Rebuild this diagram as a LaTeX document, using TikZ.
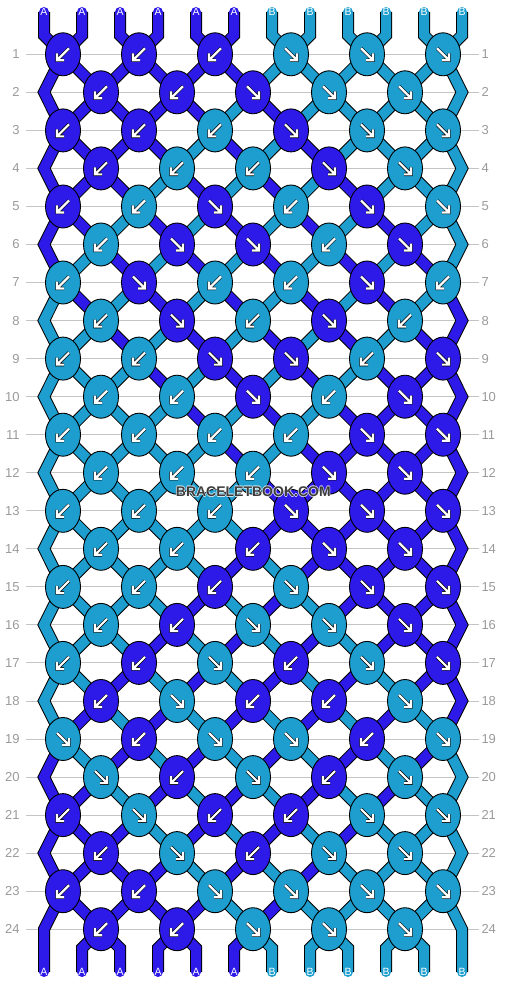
\documentclass[tikz,border=0pt]{standalone}
\usepackage{fontspec}
\setmainfont{Liberation Sans}
\usetikzlibrary{shapes.geometric}
\definecolor{colA}{HTML}{2D1AE9}
\definecolor{colB}{HTML}{1D9ECE}
\definecolor{rowgray}{HTML}{C4C4C4}
\definecolor{numgray}{HTML}{9A9A9A}
\definecolor{wmgray}{HTML}{3C3C3C}
\pgfdeclarelayer{grid}
\pgfdeclarelayer{strings}
\pgfsetlayers{grid,strings,main}

\tikzset{
  knot/.style={ellipse, draw=black, line width=0.9pt, minimum width=35pt, minimum height=43pt, inner sep=0pt},
  arrowline/.style={white, line width=2.2pt, preaction={draw=black, line width=3.4pt}},
  asw/.style={knot, fill=colA, path picture={\draw[arrowline] (path picture bounding box.center) ++(6,-6) -- ++(-12,12) ++(0,-7) -- ++(0,7) -- ++(7,0);}},
  ase/.style={knot, fill=colA, path picture={\draw[arrowline] (path picture bounding box.center) ++(-6,-6) -- ++(12,12) ++(-7,0) -- ++(7,0) -- ++(0,-7);}},
  bsw/.style={knot, fill=colB, path picture={\draw[arrowline] (path picture bounding box.center) ++(6,-6) -- ++(-12,12) ++(0,-7) -- ++(0,7) -- ++(7,0);}},
  bse/.style={knot, fill=colB, path picture={\draw[arrowline] (path picture bounding box.center) ++(-6,-6) -- ++(12,12) ++(-7,0) -- ++(7,0) -- ++(0,-7);}},
  strA/.style={draw=colA, line width=10pt, line cap=round, preaction={draw=black, line width=12pt}},
  strB/.style={draw=colB, line width=10pt, line cap=round, preaction={draw=black, line width=12pt}},
  endlabel/.style={text=white, font=\fontsize{10.5}{12}\selectfont, inner sep=0pt},
  rowline/.style={draw=rowgray, line width=1pt},
  rownum/.style={text=numgray, font=\fontsize{13}{15}\selectfont, inner sep=0pt},
  wmark/.style={font=\fontsize{14}{16}\selectfont\bfseries, inner sep=0pt}
}

\begin{document}
\begin{tikzpicture}[x=1pt,y=-1pt]
\useasboundingbox (0,0) rectangle (506,984);

\node[asw] (k1-1) at (63,54.3) {};
\node[asw] (k1-2) at (139,54.3) {};
\node[asw] (k1-3) at (215,54.3) {};
\node[bse] (k1-4) at (291,54.3) {};
\node[bse] (k1-5) at (367,54.3) {};
\node[bse] (k1-6) at (443,54.3) {};
\node[asw] (k2-1) at (101,92.3) {};
\node[asw] (k2-2) at (177,92.3) {};
\node[ase] (k2-3) at (253,92.3) {};
\node[bse] (k2-4) at (329,92.3) {};
\node[bse] (k2-5) at (405,92.3) {};
\node[asw] (k3-1) at (63,130.4) {};
\node[asw] (k3-2) at (139,130.4) {};
\node[bsw] (k3-3) at (215,130.4) {};
\node[ase] (k3-4) at (291,130.4) {};
\node[bse] (k3-5) at (367,130.4) {};
\node[bse] (k3-6) at (443,130.4) {};
\node[asw] (k4-1) at (101,168.4) {};
\node[bsw] (k4-2) at (177,168.4) {};
\node[bsw] (k4-3) at (253,168.4) {};
\node[ase] (k4-4) at (329,168.4) {};
\node[bse] (k4-5) at (405,168.4) {};
\node[asw] (k5-1) at (63,206.5) {};
\node[bsw] (k5-2) at (139,206.5) {};
\node[ase] (k5-3) at (215,206.5) {};
\node[bsw] (k5-4) at (291,206.5) {};
\node[ase] (k5-5) at (367,206.5) {};
\node[bse] (k5-6) at (443,206.5) {};
\node[bsw] (k6-1) at (101,244.5) {};
\node[ase] (k6-2) at (177,244.5) {};
\node[ase] (k6-3) at (253,244.5) {};
\node[bsw] (k6-4) at (329,244.5) {};
\node[ase] (k6-5) at (405,244.5) {};
\node[bsw] (k7-1) at (63,282.5) {};
\node[ase] (k7-2) at (139,282.5) {};
\node[bsw] (k7-3) at (215,282.5) {};
\node[bsw] (k7-4) at (291,282.5) {};
\node[ase] (k7-5) at (367,282.5) {};
\node[bsw] (k7-6) at (443,282.5) {};
\node[bsw] (k8-1) at (101,320.6) {};
\node[ase] (k8-2) at (177,320.6) {};
\node[bsw] (k8-3) at (253,320.6) {};
\node[ase] (k8-4) at (329,320.6) {};
\node[bsw] (k8-5) at (405,320.6) {};
\node[bsw] (k9-1) at (63,358.6) {};
\node[bsw] (k9-2) at (139,358.6) {};
\node[ase] (k9-3) at (215,358.6) {};
\node[ase] (k9-4) at (291,358.6) {};
\node[bsw] (k9-5) at (367,358.6) {};
\node[ase] (k9-6) at (443,358.6) {};
\node[bsw] (k10-1) at (101,396.7) {};
\node[bsw] (k10-2) at (177,396.7) {};
\node[ase] (k10-3) at (253,396.7) {};
\node[bsw] (k10-4) at (329,396.7) {};
\node[ase] (k10-5) at (405,396.7) {};
\node[bsw] (k11-1) at (63,434.7) {};
\node[bsw] (k11-2) at (139,434.7) {};
\node[bsw] (k11-3) at (215,434.7) {};
\node[bsw] (k11-4) at (291,434.7) {};
\node[ase] (k11-5) at (367,434.7) {};
\node[ase] (k11-6) at (443,434.7) {};
\node[bsw] (k12-1) at (101,472.7) {};
\node[bsw] (k12-2) at (177,472.7) {};
\node[bsw] (k12-3) at (253,472.7) {};
\node[ase] (k12-4) at (329,472.7) {};
\node[ase] (k12-5) at (405,472.7) {};
\node[bsw] (k13-1) at (63,510.8) {};
\node[bsw] (k13-2) at (139,510.8) {};
\node[bsw] (k13-3) at (215,510.8) {};
\node[ase] (k13-4) at (291,510.8) {};
\node[ase] (k13-5) at (367,510.8) {};
\node[ase] (k13-6) at (443,510.8) {};
\node[bsw] (k14-1) at (101,548.8) {};
\node[bsw] (k14-2) at (177,548.8) {};
\node[asw] (k14-3) at (253,548.8) {};
\node[ase] (k14-4) at (329,548.8) {};
\node[ase] (k14-5) at (405,548.8) {};
\node[bsw] (k15-1) at (63,586.9) {};
\node[bsw] (k15-2) at (139,586.9) {};
\node[asw] (k15-3) at (215,586.9) {};
\node[bse] (k15-4) at (291,586.9) {};
\node[ase] (k15-5) at (367,586.9) {};
\node[ase] (k15-6) at (443,586.9) {};
\node[bsw] (k16-1) at (101,624.9) {};
\node[asw] (k16-2) at (177,624.9) {};
\node[bse] (k16-3) at (253,624.9) {};
\node[bse] (k16-4) at (329,624.9) {};
\node[ase] (k16-5) at (405,624.9) {};
\node[bsw] (k17-1) at (63,662.9) {};
\node[asw] (k17-2) at (139,662.9) {};
\node[bse] (k17-3) at (215,662.9) {};
\node[asw] (k17-4) at (291,662.9) {};
\node[bse] (k17-5) at (367,662.9) {};
\node[ase] (k17-6) at (443,662.9) {};
\node[asw] (k18-1) at (101,701.0) {};
\node[bse] (k18-2) at (177,701.0) {};
\node[asw] (k18-3) at (253,701.0) {};
\node[asw] (k18-4) at (329,701.0) {};
\node[bse] (k18-5) at (405,701.0) {};
\node[bse] (k19-1) at (63,739.0) {};
\node[asw] (k19-2) at (139,739.0) {};
\node[bse] (k19-3) at (215,739.0) {};
\node[bse] (k19-4) at (291,739.0) {};
\node[asw] (k19-5) at (367,739.0) {};
\node[bse] (k19-6) at (443,739.0) {};
\node[bse] (k20-1) at (101,777.1) {};
\node[asw] (k20-2) at (177,777.1) {};
\node[bse] (k20-3) at (253,777.1) {};
\node[asw] (k20-4) at (329,777.1) {};
\node[bse] (k20-5) at (405,777.1) {};
\node[asw] (k21-1) at (63,815.1) {};
\node[bse] (k21-2) at (139,815.1) {};
\node[asw] (k21-3) at (215,815.1) {};
\node[asw] (k21-4) at (291,815.1) {};
\node[bse] (k21-5) at (367,815.1) {};
\node[bse] (k21-6) at (443,815.1) {};
\node[asw] (k22-1) at (101,853.1) {};
\node[bse] (k22-2) at (177,853.1) {};
\node[asw] (k22-3) at (253,853.1) {};
\node[bse] (k22-4) at (329,853.1) {};
\node[bse] (k22-5) at (405,853.1) {};
\node[asw] (k23-1) at (63,891.2) {};
\node[asw] (k23-2) at (139,891.2) {};
\node[bse] (k23-3) at (215,891.2) {};
\node[bse] (k23-4) at (291,891.2) {};
\node[bse] (k23-5) at (367,891.2) {};
\node[bse] (k23-6) at (443,891.2) {};
\node[asw] (k24-1) at (101,929.2) {};
\node[asw] (k24-2) at (177,929.2) {};
\node[bse] (k24-3) at (253,929.2) {};
\node[bse] (k24-4) at (329,929.2) {};
\node[bse] (k24-5) at (405,929.2) {};

\coordinate (eL2) at (44,92.3);
\coordinate (eR2) at (462,92.3);
\coordinate (eL4) at (44,168.4);
\coordinate (eR4) at (462,168.4);
\coordinate (eL6) at (44,244.5);
\coordinate (eR6) at (462,244.5);
\coordinate (eL8) at (44,320.6);
\coordinate (eR8) at (462,320.6);
\coordinate (eL10) at (44,396.7);
\coordinate (eR10) at (462,396.7);
\coordinate (eL12) at (44,472.7);
\coordinate (eR12) at (462,472.7);
\coordinate (eL14) at (44,548.8);
\coordinate (eR14) at (462,548.8);
\coordinate (eL16) at (44,624.9);
\coordinate (eR16) at (462,624.9);
\coordinate (eL18) at (44,701.0);
\coordinate (eR18) at (462,701.0);
\coordinate (eL20) at (44,777.1);
\coordinate (eR20) at (462,777.1);
\coordinate (eL22) at (44,853.1);
\coordinate (eR22) at (462,853.1);
\coordinate (eL24) at (44,929.2);
\coordinate (eR24) at (462,929.2);

\node[endlabel] (t1) at (44,12) {A};
\node[endlabel] (t2) at (82,12) {A};
\node[endlabel] (t3) at (120,12) {A};
\node[endlabel] (t4) at (158,12) {A};
\node[endlabel] (t5) at (196,12) {A};
\node[endlabel] (t6) at (234,12) {A};
\node[endlabel] (t7) at (272,12) {B};
\node[endlabel] (t8) at (310,12) {B};
\node[endlabel] (t9) at (348,12) {B};
\node[endlabel] (t10) at (386,12) {B};
\node[endlabel] (t11) at (424,12) {B};
\node[endlabel] (t12) at (462,12) {B};
\node[endlabel] (b1) at (44,972) {A};
\node[endlabel] (b2) at (82,972) {A};
\node[endlabel] (b3) at (120,972) {A};
\node[endlabel] (b4) at (158,972) {A};
\node[endlabel] (b5) at (196,972) {A};
\node[endlabel] (b6) at (234,972) {A};
\node[endlabel] (b7) at (272,972) {B};
\node[endlabel] (b8) at (310,972) {B};
\node[endlabel] (b9) at (348,972) {B};
\node[endlabel] (b10) at (386,972) {B};
\node[endlabel] (b11) at (424,972) {B};
\node[endlabel] (b12) at (462,972) {B};

\begin{pgfonlayer}{strings}
\draw[strA] (t1.center) -- ++(0,23.3) -- (k1-1.center) -- (k2-1.center) -- (k3-2.center) -- (k4-2.center) -- (k5-3.center) -- (k6-3.center) -- (k7-4.center) -- (k8-4.center) -- (k9-5.center) -- (k10-5.center) -- (k11-6.center) -- (eR12) -- (k13-6.center) -- (k14-5.center) -- (k15-5.center) -- (k16-4.center) -- (k17-4.center) -- (k18-3.center) -- (k19-3.center) -- (k20-2.center) -- (k21-2.center) -- (k22-1.center) -- (k23-1.center) -- (eL24) -- (b1.center);
\draw[strA] (t2.center) -- ++(0,23.3) -- (k1-1.center) -- (eL2) -- (k3-1.center) -- (k4-1.center) -- (k5-2.center) -- (k6-2.center) -- (k7-3.center) -- (k8-3.center) -- (k9-4.center) -- (k10-4.center) -- (k11-5.center) -- (k12-5.center) -- (k13-6.center) -- (eR14) -- (k15-6.center) -- (k16-5.center) -- (k17-5.center) -- (k18-4.center) -- (k19-4.center) -- (k20-3.center) -- (k21-3.center) -- (k22-2.center) -- (k23-2.center) -- (k24-1.center) -- ++(-19,19) -- (b2.center);
\draw[strA] (t3.center) -- ++(0,23.3) -- (k1-2.center) -- (k2-2.center) -- (k3-3.center) -- (k4-3.center) -- (k5-4.center) -- (k6-4.center) -- (k7-5.center) -- (k8-5.center) -- (k9-6.center) -- (eR10) -- (k11-6.center) -- (k12-5.center) -- (k13-5.center) -- (k14-4.center) -- (k15-4.center) -- (k16-3.center) -- (k17-3.center) -- (k18-2.center) -- (k19-2.center) -- (k20-1.center) -- (k21-1.center) -- (eL22) -- (k23-1.center) -- (k24-1.center) -- ++(19,19) -- (b3.center);
\draw[strA] (t4.center) -- ++(0,23.3) -- (k1-2.center) -- (k2-1.center) -- (k3-1.center) -- (eL4) -- (k5-1.center) -- (k6-1.center) -- (k7-2.center) -- (k8-2.center) -- (k9-3.center) -- (k10-3.center) -- (k11-4.center) -- (k12-4.center) -- (k13-5.center) -- (k14-5.center) -- (k15-6.center) -- (eR16) -- (k17-6.center) -- (k18-5.center) -- (k19-5.center) -- (k20-4.center) -- (k21-4.center) -- (k22-3.center) -- (k23-3.center) -- (k24-2.center) -- ++(-19,19) -- (b4.center);
\draw[strA] (t5.center) -- ++(0,23.3) -- (k1-3.center) -- (k2-3.center) -- (k3-4.center) -- (k4-4.center) -- (k5-5.center) -- (k6-5.center) -- (k7-6.center) -- (eR8) -- (k9-6.center) -- (k10-5.center) -- (k11-5.center) -- (k12-4.center) -- (k13-4.center) -- (k14-3.center) -- (k15-3.center) -- (k16-2.center) -- (k17-2.center) -- (k18-1.center) -- (k19-1.center) -- (eL20) -- (k21-1.center) -- (k22-1.center) -- (k23-2.center) -- (k24-2.center) -- ++(19,19) -- (b5.center);
\draw[strA] (t6.center) -- ++(0,23.3) -- (k1-3.center) -- (k2-2.center) -- (k3-2.center) -- (k4-1.center) -- (k5-1.center) -- (eL6) -- (k7-1.center) -- (k8-1.center) -- (k9-2.center) -- (k10-2.center) -- (k11-3.center) -- (k12-3.center) -- (k13-4.center) -- (k14-4.center) -- (k15-5.center) -- (k16-5.center) -- (k17-6.center) -- (eR18) -- (k19-6.center) -- (k20-5.center) -- (k21-5.center) -- (k22-4.center) -- (k23-4.center) -- (k24-3.center) -- ++(-19,19) -- (b6.center);
\draw[strB] (t7.center) -- ++(0,23.3) -- (k1-4.center) -- (k2-4.center) -- (k3-5.center) -- (k4-5.center) -- (k5-6.center) -- (eR6) -- (k7-6.center) -- (k8-5.center) -- (k9-5.center) -- (k10-4.center) -- (k11-4.center) -- (k12-3.center) -- (k13-3.center) -- (k14-2.center) -- (k15-2.center) -- (k16-1.center) -- (k17-1.center) -- (eL18) -- (k19-1.center) -- (k20-1.center) -- (k21-2.center) -- (k22-2.center) -- (k23-3.center) -- (k24-3.center) -- ++(19,19) -- (b7.center);
\draw[strB] (t8.center) -- ++(0,23.3) -- (k1-4.center) -- (k2-3.center) -- (k3-3.center) -- (k4-2.center) -- (k5-2.center) -- (k6-1.center) -- (k7-1.center) -- (eL8) -- (k9-1.center) -- (k10-1.center) -- (k11-2.center) -- (k12-2.center) -- (k13-3.center) -- (k14-3.center) -- (k15-4.center) -- (k16-4.center) -- (k17-5.center) -- (k18-5.center) -- (k19-6.center) -- (eR20) -- (k21-6.center) -- (k22-5.center) -- (k23-5.center) -- (k24-4.center) -- ++(-19,19) -- (b8.center);
\draw[strB] (t9.center) -- ++(0,23.3) -- (k1-5.center) -- (k2-5.center) -- (k3-6.center) -- (eR4) -- (k5-6.center) -- (k6-5.center) -- (k7-5.center) -- (k8-4.center) -- (k9-4.center) -- (k10-3.center) -- (k11-3.center) -- (k12-2.center) -- (k13-2.center) -- (k14-1.center) -- (k15-1.center) -- (eL16) -- (k17-1.center) -- (k18-1.center) -- (k19-2.center) -- (k20-2.center) -- (k21-3.center) -- (k22-3.center) -- (k23-4.center) -- (k24-4.center) -- ++(19,19) -- (b9.center);
\draw[strB] (t10.center) -- ++(0,23.3) -- (k1-5.center) -- (k2-4.center) -- (k3-4.center) -- (k4-3.center) -- (k5-3.center) -- (k6-2.center) -- (k7-2.center) -- (k8-1.center) -- (k9-1.center) -- (eL10) -- (k11-1.center) -- (k12-1.center) -- (k13-2.center) -- (k14-2.center) -- (k15-3.center) -- (k16-3.center) -- (k17-4.center) -- (k18-4.center) -- (k19-5.center) -- (k20-5.center) -- (k21-6.center) -- (eR22) -- (k23-6.center) -- (k24-5.center) -- ++(-19,19) -- (b10.center);
\draw[strB] (t11.center) -- ++(0,23.3) -- (k1-6.center) -- (eR2) -- (k3-6.center) -- (k4-5.center) -- (k5-5.center) -- (k6-4.center) -- (k7-4.center) -- (k8-3.center) -- (k9-3.center) -- (k10-2.center) -- (k11-2.center) -- (k12-1.center) -- (k13-1.center) -- (eL14) -- (k15-1.center) -- (k16-1.center) -- (k17-2.center) -- (k18-2.center) -- (k19-3.center) -- (k20-3.center) -- (k21-4.center) -- (k22-4.center) -- (k23-5.center) -- (k24-5.center) -- ++(19,19) -- (b11.center);
\draw[strB] (t12.center) -- ++(0,23.3) -- (k1-6.center) -- (k2-5.center) -- (k3-5.center) -- (k4-4.center) -- (k5-4.center) -- (k6-3.center) -- (k7-3.center) -- (k8-2.center) -- (k9-2.center) -- (k10-1.center) -- (k11-1.center) -- (eL12) -- (k13-1.center) -- (k14-1.center) -- (k15-2.center) -- (k16-2.center) -- (k17-3.center) -- (k18-3.center) -- (k19-4.center) -- (k20-4.center) -- (k21-5.center) -- (k22-5.center) -- (k23-6.center) -- (eR24) -- (b12.center);
\end{pgfonlayer}

\begin{pgfonlayer}{grid}
\draw[rowline] (26,54.3) node[rownum,left=6pt] (n1) {1} -- (479,54.3) node[rownum,right=2pt] (m1) {1};
\draw[rowline] (26,92.3) node[rownum,left=6pt] (n2) {2} -- (479,92.3) node[rownum,right=2pt] (m2) {2};
\draw[rowline] (26,130.4) node[rownum,left=6pt] (n3) {3} -- (479,130.4) node[rownum,right=2pt] (m3) {3};
\draw[rowline] (26,168.4) node[rownum,left=6pt] (n4) {4} -- (479,168.4) node[rownum,right=2pt] (m4) {4};
\draw[rowline] (26,206.5) node[rownum,left=6pt] (n5) {5} -- (479,206.5) node[rownum,right=2pt] (m5) {5};
\draw[rowline] (26,244.5) node[rownum,left=6pt] (n6) {6} -- (479,244.5) node[rownum,right=2pt] (m6) {6};
\draw[rowline] (26,282.5) node[rownum,left=6pt] (n7) {7} -- (479,282.5) node[rownum,right=2pt] (m7) {7};
\draw[rowline] (26,320.6) node[rownum,left=6pt] (n8) {8} -- (479,320.6) node[rownum,right=2pt] (m8) {8};
\draw[rowline] (26,358.6) node[rownum,left=6pt] (n9) {9} -- (479,358.6) node[rownum,right=2pt] (m9) {9};
\draw[rowline] (26,396.7) node[rownum,left=6pt] (n10) {10} -- (479,396.7) node[rownum,right=2pt] (m10) {10};
\draw[rowline] (26,434.7) node[rownum,left=6pt] (n11) {11} -- (479,434.7) node[rownum,right=2pt] (m11) {11};
\draw[rowline] (26,472.7) node[rownum,left=6pt] (n12) {12} -- (479,472.7) node[rownum,right=2pt] (m12) {12};
\draw[rowline] (26,510.8) node[rownum,left=6pt] (n13) {13} -- (479,510.8) node[rownum,right=2pt] (m13) {13};
\draw[rowline] (26,548.8) node[rownum,left=6pt] (n14) {14} -- (479,548.8) node[rownum,right=2pt] (m14) {14};
\draw[rowline] (26,586.9) node[rownum,left=6pt] (n15) {15} -- (479,586.9) node[rownum,right=2pt] (m15) {15};
\draw[rowline] (26,624.9) node[rownum,left=6pt] (n16) {16} -- (479,624.9) node[rownum,right=2pt] (m16) {16};
\draw[rowline] (26,662.9) node[rownum,left=6pt] (n17) {17} -- (479,662.9) node[rownum,right=2pt] (m17) {17};
\draw[rowline] (26,701.0) node[rownum,left=6pt] (n18) {18} -- (479,701.0) node[rownum,right=2pt] (m18) {18};
\draw[rowline] (26,739.0) node[rownum,left=6pt] (n19) {19} -- (479,739.0) node[rownum,right=2pt] (m19) {19};
\draw[rowline] (26,777.1) node[rownum,left=6pt] (n20) {20} -- (479,777.1) node[rownum,right=2pt] (m20) {20};
\draw[rowline] (26,815.1) node[rownum,left=6pt] (n21) {21} -- (479,815.1) node[rownum,right=2pt] (m21) {21};
\draw[rowline] (26,853.1) node[rownum,left=6pt] (n22) {22} -- (479,853.1) node[rownum,right=2pt] (m22) {22};
\draw[rowline] (26,891.2) node[rownum,left=6pt] (n23) {23} -- (479,891.2) node[rownum,right=2pt] (m23) {23};
\draw[rowline] (26,929.2) node[rownum,left=6pt] (n24) {24} -- (479,929.2) node[rownum,right=2pt] (m24) {24};
\end{pgfonlayer}

\node[wmark, text=white, opacity=0.75] (halo1) at (254,491.7) {BRACELETBOOK.COM};
\node[wmark, text=white, opacity=0.75] (halo2) at (252.6,491.7) {BRACELETBOOK.COM};
\node[wmark, text=white, opacity=0.75] (halo3) at (253.3,492.4) {BRACELETBOOK.COM};
\node[wmark, text=white, opacity=0.75] (halo4) at (253.3,491) {BRACELETBOOK.COM};
\node[wmark, text=wmgray] (wm) at (253.3,491.7) {BRACELETBOOK.COM};
\end{tikzpicture}
\end{document}
